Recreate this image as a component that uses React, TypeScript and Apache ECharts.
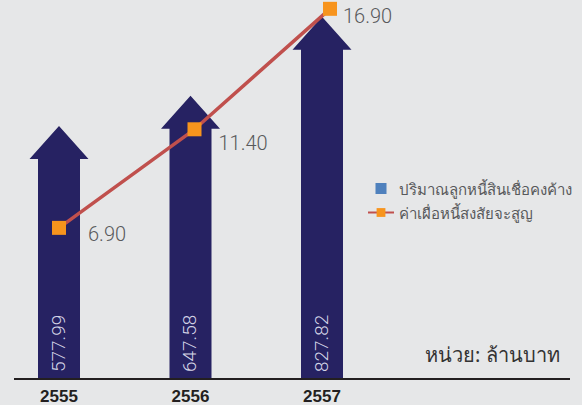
import React, { useEffect, useRef } from "react";
import * as echarts from "echarts";

const categories = ["2555", "2556", "2557"];
const loanValues = [577.99, 647.58, 827.82];
const allowanceValues = [6.9, 11.4, 16.9];
const seriesNames = ["ปริมาณลูกหนี้สินเชื่อคงค้าง", "ค่าเผื่อหนี้สงสัยจะสูญ"];
const unitText = "หน่วย: ล้านบาท";

// label placement tweaks for the line's value labels (px)
const lineLabelOffsets = [
  [17, 6],
  [12, 14],
  [1, 7],
];

const BAR_COLOR = "#262262";
const LINE_COLOR = "#c0504d";
const MARKER_COLOR = "#f7941d";
const BG = "#e6e7e8";

export default function App() {
  const ref = useRef<HTMLDivElement>(null);

  useEffect(() => {
    if (!ref.current) return;
    const chart = echarts.init(ref.current, undefined, { renderer: "svg" });

    const option: any = {
      animation: false,
      backgroundColor: BG,
      grid: [
        { left: 59, width: 263, top: 4, bottom: 26 },
        { left: 59, width: 271, top: 4, bottom: 26 },
      ],
      xAxis: [
        {
          type: "category",
          gridIndex: 0,
          data: categories,
          boundaryGap: false,
          axisLine: { show: false },
          axisTick: { show: false },
          splitLine: { show: false },
          axisLabel: {
            color: "#231f20",
            fontWeight: "bold",
            fontSize: 17,
            fontFamily: "Liberation Sans, Arial, sans-serif",
            margin: 9,
          },
        },
        {
          type: "category",
          gridIndex: 1,
          data: categories,
          boundaryGap: false,
          show: false,
        },
      ],
      yAxis: [
        { type: "value", gridIndex: 0, min: 0, max: 857, show: false },
        { type: "value", gridIndex: 1, min: 0, max: 17.12, show: false },
      ],
      legend: {
        orient: "vertical",
        left: 362,
        top: 176,
        itemWidth: 26,
        itemHeight: 11,
        itemGap: 9,
        textStyle: {
          color: "#58595b",
          fontSize: 15,
          fontFamily: "Noto Sans, sans-serif",
        },
        data: [
          {
            name: seriesNames[0],
            icon: "path://M0,0h10v10h-10z",
            itemStyle: { color: "#4f81bd" },
          },
          { name: seriesNames[1] },
        ],
      },
      series: [
        {
          name: seriesNames[0],
          type: "custom",
          xAxisIndex: 0,
          yAxisIndex: 0,
          itemStyle: { color: BAR_COLOR },
          encode: { x: 0, y: 1 },
          data: loanValues.map((v, i) => [i, v]),
          renderItem: (params: any, api: any) => {
            const i = api.value(0);
            const v = api.value(1);
            const top = api.coord([i, v]);
            const base = api.coord([i, 0]);
            const cx = top[0];
            const ty = top[1];
            const by = base[1];
            const headH = 33;
            const headHalf = 29.5;
            const shaftHalf = 21;
            const points = [
              [cx - shaftHalf, by],
              [cx - shaftHalf, ty + headH],
              [cx - headHalf, ty + headH],
              [cx, ty],
              [cx + headHalf, ty + headH],
              [cx + shaftHalf, ty + headH],
              [cx + shaftHalf, by],
            ];
            return {
              type: "group",
              children: [
                {
                  type: "polygon",
                  shape: { points },
                  style: { fill: BAR_COLOR },
                },
                {
                  type: "text",
                  x: cx - 1,
                  y: by - 7,
                  rotation: Math.PI / 2,
                  style: {
                    text: v.toFixed(2),
                    fill: "#d4d4e6",
                    fontSize: 19,
                    fontWeight: 300,
                    fontFamily: "Roboto, Liberation Sans, sans-serif",
                    align: "left",
                    verticalAlign: "middle",
                  },
                },
              ],
            };
          },
          z: 2,
        },
        {
          name: seriesNames[1],
          type: "line",
          xAxisIndex: 1,
          yAxisIndex: 1,
          symbol: "rect",
          symbolSize: 14,
          lineStyle: { color: LINE_COLOR, width: 3.5 },
          itemStyle: { color: MARKER_COLOR },
          data: allowanceValues.map((v, i) => ({
            value: v,
            label: {
              offset: lineLabelOffsets[i],
            },
          })),
          label: {
            show: true,
            position: "right",
            color: "#58595b",
            fontSize: 20,
            fontWeight: 300,
            fontFamily: "Roboto, Liberation Sans, sans-serif",
            formatter: (p: any) => Number(p.value).toFixed(2),
          },
          z: 3,
        },
      ],
      graphic: [
        {
          type: "line",
          shape: { x1: 14, y1: 379, x2: 570, y2: 379 },
          style: { stroke: "#231f20", lineWidth: 2 },
          z: 10,
        },
        {
          type: "text",
          left: 425,
          top: 344,
          style: {
            text: unitText,
            fill: "#333333",
            fontSize: 20,
            fontWeight: "normal",
            fontFamily: "Noto Sans, sans-serif",
          },
        },
      ],
    };

    chart.setOption(option);
    return () => chart.dispose();
  }, []);

  return (
    <div
      ref={ref}
      style={{ position: "absolute", left: 0, top: 0, width: 582, height: 405 }}
    />
  );
}
